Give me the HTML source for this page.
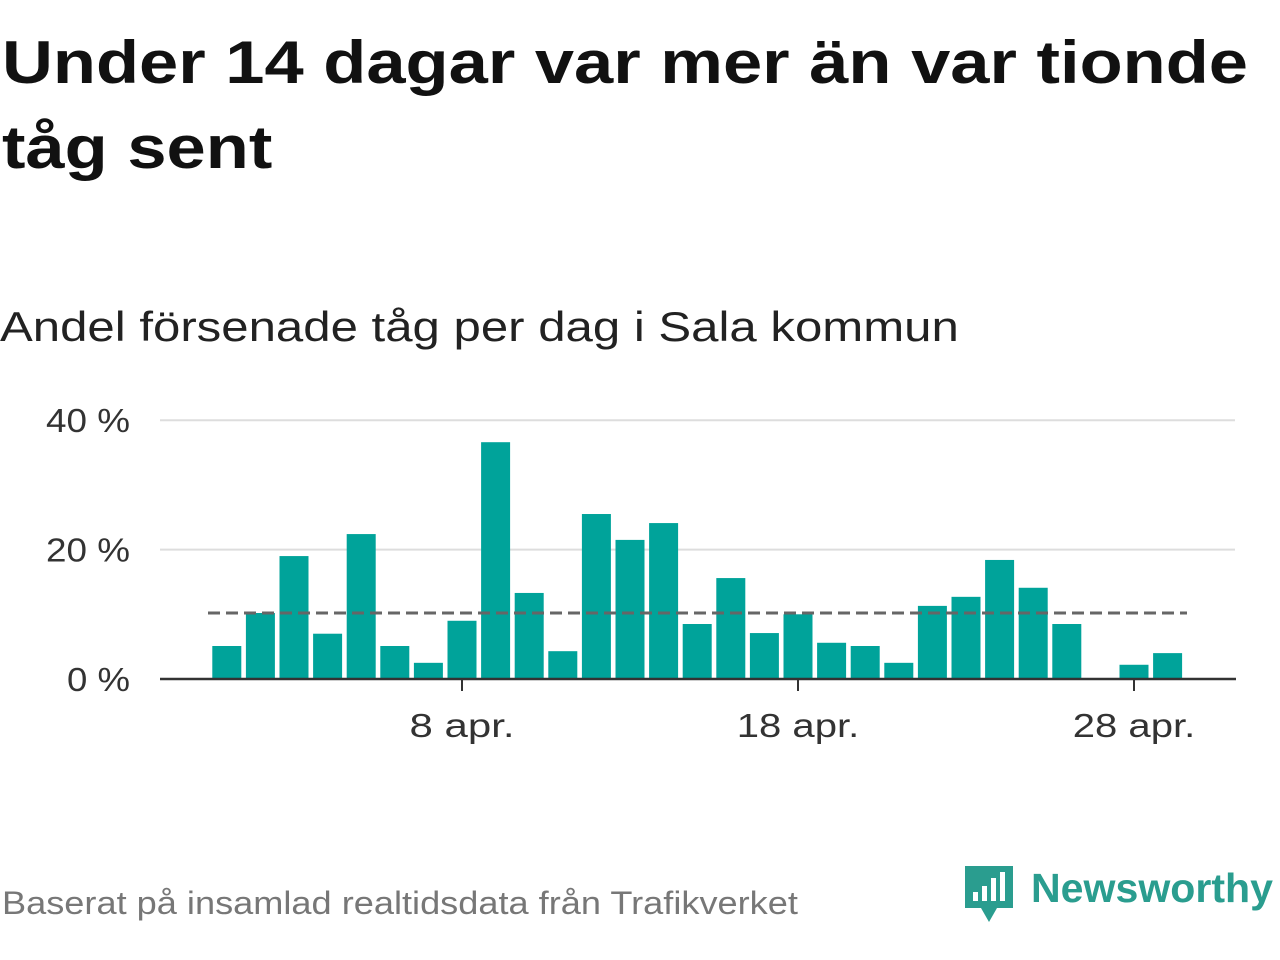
<!DOCTYPE html>
<html><head><meta charset="utf-8"><style>
body{margin:0;width:1280px;height:960px;background:#fff;font-family:"Liberation Sans","DejaVu Sans",sans-serif;overflow:hidden;position:relative}
.t{position:absolute;left:2px;margin:0;font-size:60px;font-weight:bold;color:#111;white-space:nowrap;transform-origin:left top;line-height:1}
.sub{position:absolute;left:0;top:306px;font-size:42px;color:#222;white-space:nowrap;transform-origin:left top;transform:scaleX(1.17);line-height:1}
.foot{position:absolute;left:2px;top:887px;font-size:32px;color:#777;white-space:nowrap;transform-origin:left top;transform:scaleX(1.13);line-height:1}
.logo{position:absolute;left:963px;top:862px}
</style></head><body>
<div class="t" style="top:33px;transform:scaleX(1.175)">Under 14 dagar var mer än var tionde</div>
<div class="t" style="top:118px;transform:scaleX(1.175)">tåg sent</div>
<div class="sub">Andel försenade tåg per dag i Sala kommun</div>
<svg id="chart" width="1280" height="960" style="position:absolute;left:0;top:0"></svg>
<div class="foot">Baserat på insamlad realtidsdata från Trafikverket</div>
<div class="logo">
<svg width="317" height="64"><path d="M2 4h48v42h-16l-8 14-8-14H2z" fill="#2a9d8f"/><rect x="10" y="30" width="5" height="9" fill="#fff"/><rect x="19" y="24" width="5" height="15" fill="#fff"/><rect x="28" y="16" width="5" height="23" fill="#fff"/><rect x="37" y="10" width="5" height="29" fill="#fff"/>
<text x="68" y="40" font-size="41" font-weight="bold" fill="#2a9d8f" textLength="242" lengthAdjust="spacingAndGlyphs" font-family="Liberation Sans, sans-serif">Newsworthy</text></svg></div>
<script>
const days=[1,2,3,4,5,6,7,8,9,10,11,12,13,14,15,16,17,18,19,20,21,22,23,24,25,26,27,28,29];
const values=[5.1,10.2,19,7,22.4,5.1,2.5,9,36.6,13.3,4.3,25.5,21.5,24.1,8.5,15.6,7.1,10,5.6,5.1,2.5,11.3,12.7,18.4,14.1,8.5,0,2.2,4];
const yTicks=[0,20,40];
const xTicks=[8,18,28];
const xTickLabels=["8 apr.","18 apr.","28 apr."];
const avg=10.2;
const NS="http://www.w3.org/2000/svg";
const svg=document.getElementById('chart');
const x=d=>462+(d-8)*33.6;
const y=v=>679-v*6.47;
function mk(t,a){const e=document.createElementNS(NS,t);for(const k in a)e.setAttribute(k,a[k]);svg.appendChild(e);return e;}
yTicks.forEach(t=>{
 if(t>0){const g=mk('line',{x1:160,x2:1235,y1:y(t),y2:y(t),stroke:'#ddd','stroke-width':2});
 
 }
 const s=t+' %';
 const l=mk('text',{x:130,y:y(t)+12,'text-anchor':'end','font-size':33,fill:'#333',textLength:s.length*21,lengthAdjust:'spacingAndGlyphs'});l.textContent=s;
 
 
});
days.forEach((d,i)=>{
 const r=mk('rect',{x:x(d)-14.5,y:y(values[i]),width:29,height:679-y(values[i]),fill:'#00a39a'});
 
 
});
const av=mk('line',{x1:208,x2:1187,y1:y(avg),y2:y(avg),stroke:'#666','stroke-width':3,'stroke-dasharray':'12,6'});


const ax=mk('line',{x1:160,x2:1236,y1:679,y2:679,stroke:'#333','stroke-width':2.5});


xTicks.forEach((t,i)=>{
 const tk=mk('line',{x1:x(t),x2:x(t),y1:679,y2:691,stroke:'#333','stroke-width':2});
 
 
 const s=xTickLabels[i];
 const l=mk('text',{x:x(t),y:737,'text-anchor':'middle','font-size':33,fill:'#333',textLength:s.length*17.5,lengthAdjust:'spacingAndGlyphs'});l.textContent=s;
 
 
});
</script>
</body></html>
